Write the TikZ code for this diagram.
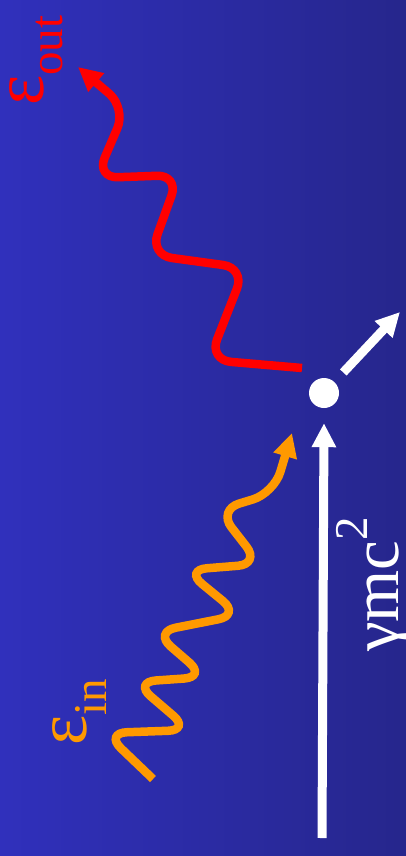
\documentclass[tikz,border=0pt]{standalone}
\usepackage{fontspec}
\setmainfont{Liberation Serif}
\usepackage{tikz}
\usetikzlibrary{arrows.meta}
\definecolor{bgleft}{RGB}{48,48,188}
\definecolor{bgright}{RGB}{38,38,140}
\definecolor{photonin}{RGB}{255,153,0}
\definecolor{photonout}{RGB}{255,0,0}
\newcommand{\greekfs}{\fontsize{72}{72}\selectfont}
\newcommand{\energyfs}{\fontsize{67}{68}\selectfont}
\newcommand{\subfs}{\fontsize{47}{47}\selectfont}
\tikzset{
  photon/.style = {line width=8.5pt, rounded corners=22pt, -{Triangle[length=24pt,width=23pt]}},
  beam/.style   = {line width=9pt, draw=white, -{Triangle[length=24pt,width=23pt]}},
  dot/.style    = {circle, fill=white, minimum size=30pt, inner sep=0pt},
  lbl/.style    = {rotate=90, inner sep=0pt, anchor=base west},
}
\begin{document}
\begin{tikzpicture}[x=1pt, y=-1pt]
  \useasboundingbox (0,0) rectangle (406,856);
  \shade[left color=bgleft, right color=bgright] (0,0) rectangle (406,856);
  % electron and its momentum
  \node[dot] (electron) at (324,393) {};
  \coordinate (ebeam) at (322,838);
  \coordinate (recoil) at (400,312);
  \draw[beam] (ebeam) -- ([yshift=-15pt]electron.south);
  \draw[beam, shorten <=13pt] (electron) -- (recoil);
  % incoming photon
  \coordinate (instart) at (153,779);
  \draw[photon, draw=photonin] (instart) -- (105,733) -- (190,730) -- (134,682) -- (206,677)
    -- (154,632) -- (240,615) -- (185,570) -- (260,564) -- (218,510) -- (274,493)
    [rounded corners=24pt] -- (292,433);
  % scattered photon
  \coordinate (outstart) at (302,368);
  \draw[photon, draw=photonout] (outstart) -- (209,360) -- (245,268) -- (150,255) -- (179,175)
    -- (96,178) -- (126,108) [rounded corners=30pt] -- (78,67);
  % labels
  \node[lbl, text=photonout] (eout) at (43,106) {\greekfs ε\raisebox{-19pt}{\subfs out}};
  \node[lbl, text=photonin] (ein) at (86,746) {\greekfs ε\raisebox{-20pt}{\subfs in}};
  \node[lbl, text=white] (energy) at (398,652) {\energyfs γmc\raisebox{31pt}{\subfs 2}};
\end{tikzpicture}
\end{document}
